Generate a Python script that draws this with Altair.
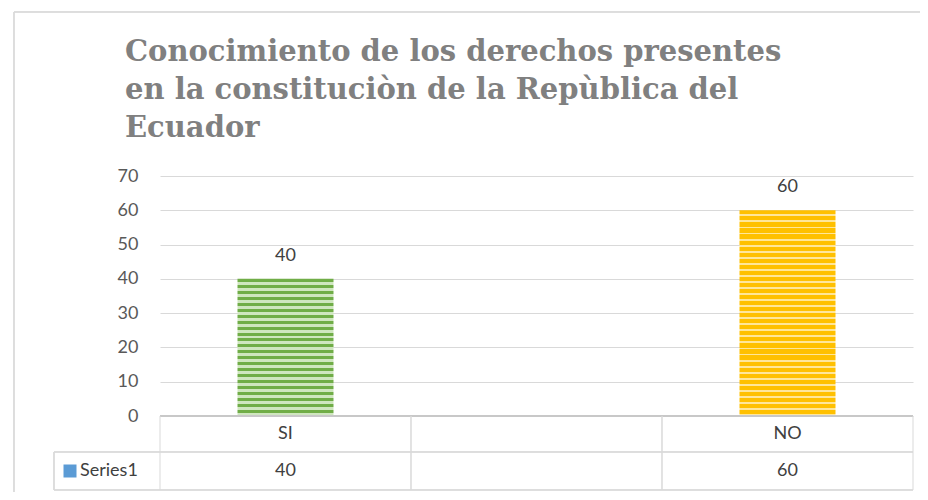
import altair as alt
import pandas as pd

categories = ["SI", "", "NO"]
values = [40, None, 60]
series_name = "Series1"
y_ticks = [0, 10, 20, 30, 40, 50, 60, 70]
title_lines = [
    "Conocimiento de los derechos presentes",
    "en la constituciòn de la Repùblica del",
    "Ecuador",
]

W, H = 753, 240
YMAX = 70


def stripes(dark, light, n, dark_frac):
    stops = []
    for i in range(n):
        a = i / n
        b = (i + dark_frac) / n
        c = (i + 1) / n
        stops += [
            {"offset": a, "color": dark},
            {"offset": b, "color": dark},
            {"offset": b, "color": light},
            {"offset": c, "color": light},
        ]
    return alt.LinearGradient(gradient="linear", x1=0, y1=0, x2=0, y2=1, stops=stops)


green = stripes("#70ad47", "#cfe6bf", 23, 0.5)
yellow = stripes("#ffc000", "#ffe699", 34, 0.68)

df = pd.DataFrame({"cat": categories, "value": values, "series": series_name})
df["label"] = df["value"].apply(lambda v: "" if pd.isna(v) else str(int(v)))

FONT = "Lato"
GRID = "#d9d9d9"

xscale = alt.Scale(domain=categories, paddingInner=0, paddingOuter=0)
yscale = alt.Scale(domain=[0, YMAX])
yaxis = alt.Axis(values=y_ticks, title=None, domain=False, ticks=False,
                 grid=True, gridColor=GRID, gridWidth=1,
                 labelFont=FONT, labelFontSize=18, labelColor="#595959",
                 labelPadding=22)

base = alt.Chart(df)

bars = base.transform_filter("datum.value != null").mark_bar(size=96).encode(
    x=alt.X("cat:N", sort=categories, scale=xscale, axis=None),
    y=alt.Y("value:Q", scale=yscale, axis=yaxis),
    fill=alt.condition(alt.datum.cat == "SI", alt.value(green), alt.value(yellow)),
)

labels = base.transform_filter("datum.value != null").mark_text(
    baseline="alphabetic", dy=-18, font=FONT, fontSize=18, color="#404040"
).encode(
    x=alt.X("cat:N", sort=categories, scale=xscale, axis=None),
    y=alt.Y("value:Q", scale=yscale, axis=yaxis),
    text="label:N",
)

# zero line / table top border
zero = base.mark_rule(color="#c8c8c8", strokeWidth=2).encode(
    x=alt.value(0), x2=alt.value(W), y=alt.value(H)
)

# table horizontal lines
h1 = base.mark_rule(color=GRID).encode(x=alt.value(-106), x2=alt.value(W), y=alt.value(276))
h2 = base.mark_rule(color=GRID).encode(x=alt.value(-106), x2=alt.value(W), y=alt.value(314))
vleft = base.mark_rule(color=GRID).encode(x=alt.value(-106), y=alt.value(276), y2=alt.value(314))

# table vertical lines at band edges
v0 = base.mark_rule(color=GRID).encode(
    x=alt.X("cat:N", sort=categories, scale=xscale, bandPosition=0, axis=None),
    y=alt.value(H), y2=alt.value(314),
)
v1 = base.mark_rule(color=GRID).encode(
    x=alt.X("cat:N", sort=categories, scale=xscale, bandPosition=1, axis=None),
    y=alt.value(H), y2=alt.value(314),
)

cat_text = base.mark_text(font=FONT, fontSize=18, color="#404040", baseline="middle").encode(
    x=alt.X("cat:N", sort=categories, scale=xscale, axis=None),
    y=alt.value(258),
    text="cat:N",
)
val_text = base.mark_text(font=FONT, fontSize=18, color="#404040", baseline="middle").encode(
    x=alt.X("cat:N", sort=categories, scale=xscale, axis=None),
    y=alt.value(295),
    text="label:N",
)

legend_df = pd.DataFrame({"series": [series_name]})
key = alt.Chart(legend_df).mark_square(size=169, color="#5b9bd5", opacity=1).encode(
    x=alt.value(-90), y=alt.value(295)
)
key_text = alt.Chart(legend_df).mark_text(
    font=FONT, fontSize=18, color="#404040", align="left", baseline="middle"
).encode(x=alt.value(-80), y=alt.value(295), text="series:N")

# outer chart-area border (left and top edges)
b_left = base.mark_rule(color=GRID).encode(x=alt.value(-146), y=alt.value(-164), y2=alt.value(320))
b_top = base.mark_rule(color=GRID).encode(x=alt.value(-146), x2=alt.value(780), y=alt.value(-164))

chart = alt.layer(
    b_left, b_top, bars, labels, zero, h1, h2, vleft, v0, v1,
    cat_text, val_text, key, key_text,
).properties(
    width=W,
    height=H,
    title=alt.TitleParams(
        text=title_lines,
        anchor="start",
        frame="group",
        dx=-35,
        offset=-154,
        baseline="alphabetic",
        font="DejaVu Serif",
        fontSize=29,
        fontWeight="bold",
        color="#808080",
        lineHeight=38,
    ),
    autosize=alt.AutoSizeParams(type="none"),
    padding={"left": 152, "top": 168, "right": 7, "bottom": 76},
    background="white",
).configure_view(stroke=None, strokeWidth=0)

chart.save("out.html", embed_options={"renderer": "svg", "actions": False})
